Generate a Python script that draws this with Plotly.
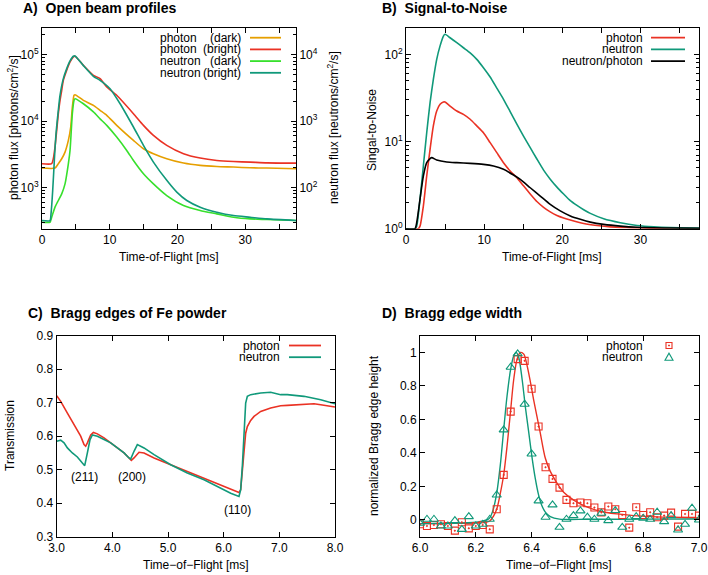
import plotly.graph_objects as go

W, H = 708, 575
FONT = "Liberation Sans, Arial, Helvetica, sans-serif"

def px(x):
    return x / W

def py(y):
    return 1 - y / H

ORANGE = "#e69f00"
RED = "#ea3224"
LGREEN = "#37e02c"
TEAL = "#10997a"
BLACK = "#000000"

# ---------------- Panel A: open beam profiles ----------------
a_photon_bright_t = [0, 1.43, 1.67, 1.92, 2.17, 2.41, 2.66, 2.91, 3.15, 3.65, 4.14, 4.63, 4.88, 6.11, 7.59,
                     8.57, 9.56, 11.03, 13.5, 14.98, 16.45, 18.42, 20.89, 23.35, 25.81, 28.28, 30.74, 33.2, 37.5]
a_photon_bright = [2280, 2280, 2710, 4060, 7230, 12900, 20500, 29000, 41000, 58100, 77400, 92300, 94400, 69000, 48800,
                   43500, 32600, 24400, 12900, 8610, 6080, 4300, 3220, 2770, 2550, 2460, 2410, 2350, 2330]

a_photon_dark_t = [0, 1.92, 2.41, 2.91, 3.40, 3.89, 4.24, 4.48, 4.73, 4.88, 6.11, 7.59, 8.57, 9.56, 11.03,
                   13.5, 14.98, 16.45, 18.42, 20.89, 23.35, 25.81, 28.28, 30.74, 33.2, 37.5]
a_photon_dark = [1960, 1960, 2280, 2710, 3410, 5110, 8130, 16200, 24400, 24900, 20500, 17200, 14500, 12200, 8610,
                 5110, 3830, 3220, 2710, 2330, 2150, 2070, 2030, 1980, 1960, 1910]

a_neutron_bright_t = [0, 1.18, 1.33, 1.58, 1.82, 2.07, 2.41, 2.66, 3.15, 3.65, 4.14, 4.63, 4.88, 6.11, 7.59,
                      8.57, 10.05, 11.53, 13.5, 14.98, 16.45, 18.42, 19.9, 21.38, 23.35, 25.81, 28.28, 30.74, 33.2, 37.5]
a_neutron_bright = [31.8, 31.8, 40.1, 90.1, 255, 644, 1450, 2440, 4350, 6150, 8030, 9440, 9550, 6820, 4710,
                    4100, 3070, 1820, 813, 430, 241, 128, 85.1, 63.7, 50.6, 42.5, 37.8, 35.7, 33.7, 31.8]

a_neutron_dark_t = [0, 1.18, 1.43, 1.92, 2.41, 2.91, 3.40, 3.89, 4.14, 4.48, 4.73, 4.88, 6.11, 7.59, 8.57,
                    9.56, 11.03, 12.51, 13.5, 14.98, 16.45, 18.42, 20.89, 23.35, 25.81, 28.28, 30.74, 33.2, 37.5]
a_neutron_dark = [30.0, 30.0, 35.7, 50.6, 63.7, 80.3, 113.5, 227.5, 361, 1290, 2050, 2170, 1820, 1370, 1080,
                  861, 574, 361, 255, 161, 113.5, 75.7, 53.6, 45.0, 40.1, 35.7, 33.7, 33.0, 31.8]

# ---------------- Panel B: signal-to-noise ----------------
b_neutron_t = [0, 1.15, 1.37, 1.79, 2.22, 2.65, 3.08, 3.50, 3.93, 4.36, 4.79, 5.0, 5.64, 6.50, 7.35, 8.21, 9.06,
               9.91, 10.77, 11.62, 12.48, 13.33, 14.19, 15.04, 15.90, 16.75, 17.61, 18.46, 19.32, 20.17, 21.03,
               21.88, 22.74, 23.59, 25.3, 27.44, 29.57, 31.71, 33.85, 37.5]
b_neutron = [1.0, 1.0, 1.07, 2.17, 5.24, 12.6, 27.9, 51.6, 87.6, 125, 162, 170, 155, 136, 119, 104, 87.6,
             70.3, 55.0, 41.0, 30.5, 22.0, 15.8, 11.5, 8.5, 6.3, 4.7, 3.7, 3.0, 2.5, 2.1,
             1.85, 1.65, 1.5, 1.3, 1.17, 1.09, 1.05, 1.03, 1.02]

b_photon_t = [0, 1.58, 1.79, 2.22, 2.65, 3.08, 3.50, 3.93, 4.36, 4.79, 5.0, 5.64, 6.50, 7.35, 8.21, 9.06, 9.91,
              10.77, 11.62, 12.48, 13.33, 14.19, 15.04, 15.90, 16.75, 17.61, 18.46, 19.32, 20.17, 21.03, 22.74,
              24.44, 26.15, 28.72, 31.71, 37.5]
b_photon = [1.0, 1.0, 1.07, 1.82, 4.02, 8.13, 15.1, 22.4, 26.7, 28.4, 28.4, 25.5, 22.4, 20.5, 18.0, 15.1, 12.6,
            9.70, 7.45, 5.72, 4.6, 3.85, 3.1, 2.5, 2.05, 1.76, 1.56, 1.42, 1.33, 1.26, 1.15,
            1.09, 1.05, 1.03, 1.01, 1.0]

b_ratio_t = [0, 1.15, 1.37, 1.79, 2.22, 2.65, 3.08, 3.29, 3.93, 5.21, 6.50, 8.21, 9.91, 11.2, 12.48, 13.76,
             14.62, 15.9, 17.18, 18.46, 19.74, 21.03, 22.31, 23.59, 25.3, 27.44, 29.57, 33.85, 37.5]
b_ratio = [1.0, 1.0, 1.17, 2.17, 4.02, 5.72, 6.36, 6.53, 6.14, 5.82, 5.72, 5.62, 5.47, 5.24, 4.80, 4.13,
           3.68, 2.95, 2.37, 1.90, 1.60, 1.40, 1.28, 1.19, 1.12, 1.07, 1.04, 1.02, 1.01]

# ---------------- Panel C: Bragg edges of Fe powder ----------------
c_photon_t = [3.0, 3.072, 3.192, 3.311, 3.431, 3.491, 3.521, 3.551, 3.611, 3.659, 3.731, 3.850, 3.970, 4.090,
              4.210, 4.299, 4.341, 4.389, 4.479, 4.569, 4.749, 5.048, 5.347, 5.647, 5.946, 6.126, 6.275, 6.305,
              6.335, 6.365, 6.395, 6.425, 6.485, 6.545, 6.665, 6.844, 7.024, 7.144, 7.443, 7.623, 7.743, 8.0]
c_photon = [0.721, 0.704, 0.669, 0.634, 0.600, 0.575, 0.570, 0.580, 0.604, 0.611, 0.607, 0.595, 0.580, 0.565,
            0.550, 0.535, 0.528, 0.535, 0.552, 0.550, 0.535, 0.515, 0.495, 0.475, 0.455, 0.443, 0.432, 0.440,
            0.490, 0.560, 0.609, 0.629, 0.647, 0.659, 0.674, 0.684, 0.691, 0.692, 0.696, 0.697, 0.694, 0.687]

c_neutron_t = [3.0, 3.072, 3.132, 3.192, 3.281, 3.371, 3.461, 3.503, 3.551, 3.599, 3.641, 3.731, 3.850, 3.970,
               4.090, 4.210, 4.299, 4.329, 4.389, 4.449, 4.569, 4.749, 5.048, 5.347, 5.647, 5.946, 6.126, 6.275,
               6.305, 6.335, 6.365, 6.395, 6.425, 6.485, 6.665, 6.844, 7.024, 7.144, 7.443, 7.623, 7.743, 8.0]
c_neutron = [0.585, 0.588, 0.580, 0.565, 0.550, 0.538, 0.520, 0.512, 0.550, 0.590, 0.604, 0.600, 0.590, 0.580,
             0.565, 0.550, 0.535, 0.532, 0.555, 0.575, 0.565, 0.545, 0.515, 0.490, 0.470, 0.445, 0.430, 0.420,
             0.440, 0.510, 0.609, 0.699, 0.719, 0.724, 0.729, 0.731, 0.724, 0.724, 0.719, 0.714, 0.709, 0.697]

c_labels = ["(211)", "(200)", "(110)"]
c_label_t = [3.50, 4.35, 6.24]
c_label_y = [0.477, 0.477, 0.380]

# ---------------- Panel D: Bragg edge width ----------------
d_t = [6.000, 6.025, 6.050, 6.075, 6.100, 6.125, 6.150, 6.175, 6.200, 6.225, 6.250, 6.275, 6.300, 6.325,
       6.350, 6.375, 6.400, 6.425, 6.450, 6.475, 6.500, 6.525, 6.550, 6.575, 6.600, 6.625, 6.650, 6.675,
       6.700, 6.725, 6.750, 6.775, 6.800, 6.825, 6.850, 6.875, 6.900, 6.925, 6.950, 6.975, 7.000]
d_photon = [-0.026, -0.036, -0.030, -0.026, -0.036, -0.064, -0.014, -0.050, -0.036, -0.030, -0.056, 0.064,
            0.269, 0.647, 0.960, 0.950, 0.783, 0.558, 0.315, 0.245, 0.193, 0.120, 0.100, 0.104, 0.100, 0.074,
            0.045, 0.080, 0.064, 0.030, -0.046, 0.076, 0.030, 0.046, 0.016, 0.026, 0.044, -0.040, 0.036,
            0.036, 0.026]
d_neutron = [-0.020, 0.004, 0.004, -0.036, -0.036, -0.004, -0.056, 0.020, -0.036, -0.026, 0.004, 0.149,
             0.538, 0.912, 0.992, 0.691, 0.394, 0.114, 0.016, 0.090, -0.044, 0.004, 0.026, 0.054, 0.016, 0.004,
             0.040, -0.004, 0.056, -0.044, 0.004, 0.020, 0.010, 0.004, 0.046, -0.010, 0.026, -0.060, -0.026,
             0.070, 0.000]

d_photon_fit_t = [6.0, 6.1, 6.2, 6.228, 6.25, 6.264, 6.276, 6.288, 6.3, 6.312, 6.324, 6.336, 6.348, 6.36, 6.372,
                  6.384, 6.395, 6.407, 6.419, 6.431, 6.449, 6.467, 6.491, 6.515, 6.551, 6.587, 6.646, 6.706,
                  6.766, 6.826, 6.909, 7.0]
d_photon_fit = [-0.022, -0.021, -0.019, -0.016, -0.006, 0.024, 0.07, 0.16, 0.27, 0.44, 0.64, 0.84, 0.96, 1.0,
                0.99, 0.92, 0.83, 0.72, 0.62, 0.52, 0.37, 0.29, 0.22, 0.165, 0.118, 0.086, 0.052, 0.036,
                0.026, 0.02, 0.016, 0.012]
d_neutron_fit_t = [6.0, 6.1, 6.2, 6.225, 6.24, 6.25, 6.262, 6.275, 6.288, 6.3, 6.312, 6.325, 6.336, 6.345,
                   6.354, 6.366, 6.378, 6.39, 6.401, 6.413, 6.425, 6.437, 6.45, 6.467, 6.5, 6.6, 6.8, 7.0]
d_neutron_fit = [-0.022, -0.02, -0.014, -0.006, 0.0, 0.012, 0.06, 0.16, 0.33, 0.54, 0.74, 0.9, 0.98, 1.0,
                 0.97, 0.84, 0.67, 0.52, 0.38, 0.25, 0.15, 0.085, 0.045, 0.02, 0.005, 0.004, 0.005, 0.006]

fig = go.Figure()

def line(x, y, color, xa, ya, shape="spline", width=1.6, smooth=0.6):
    kw = dict(color=color, width=width, shape=shape)
    if shape == "spline":
        kw["smoothing"] = smooth
    fig.add_trace(go.Scatter(x=x, y=y, mode="lines", line=kw, xaxis=xa, yaxis=ya,
                             hoverinfo="skip", showlegend=False))

# A
line(a_photon_dark_t, a_photon_dark, ORANGE, "x", "y")
line(a_photon_bright_t, a_photon_bright, RED, "x", "y")
line(a_neutron_dark_t, a_neutron_dark, LGREEN, "x", "y2")
line(a_neutron_bright_t, a_neutron_bright, TEAL, "x", "y2")
# B
line(b_photon_t, b_photon, RED, "x2", "y3")
line(b_neutron_t, b_neutron, TEAL, "x2", "y3")
line(b_ratio_t, b_ratio, BLACK, "x2", "y3")
# C
line(c_photon_t, c_photon, RED, "x3", "y4", shape="linear")
line(c_neutron_t, c_neutron, TEAL, "x3", "y4", shape="linear")
# D
line(d_photon_fit_t, d_photon_fit, RED, "x4", "y5", width=1.4, smooth=0.8)
line(d_neutron_fit_t, d_neutron_fit, TEAL, "x4", "y5", width=1.4, smooth=0.8)
fig.add_trace(go.Scatter(x=d_t, y=d_photon, mode="markers", xaxis="x4", yaxis="y5", hoverinfo="skip",
                         marker=dict(symbol="square-open-dot", size=7, color=RED, line=dict(width=1.1, color=RED))))
fig.add_trace(go.Scatter(x=d_t, y=d_neutron, mode="markers", xaxis="x4", yaxis="y5", hoverinfo="skip",
                         marker=dict(symbol="triangle-up-open", size=8, color=TEAL, line=dict(width=1.1, color=TEAL))))

TF = dict(family=FONT, size=12, color="black")

def axis(**kw):
    d = dict(showline=True, linecolor="black", linewidth=1, ticks="inside", ticklen=5, tickwidth=1,
             tickcolor="black", showgrid=False, zeroline=False, tickfont=TF, mirror="ticks",
             automargin=False)
    d.update(kw)
    return d

def minor_log(lo, hi):
    vals = []
    for e in range(lo, hi):
        for m in range(2, 10):
            vals.append(m * 10 ** e)
    return dict(tickvals=vals, ticks="inside", ticklen=3, tickcolor="black", tickwidth=1, showgrid=False)

def sup_ticks(lo, hi):
    vals = [10 ** e for e in range(lo, hi + 1)]
    txt = ["10<sup>%d</sup>" % e for e in range(lo, hi + 1)]
    return vals, txt

yA_v, yA_t = sup_ticks(3, 5)
y2A_v, y2A_t = sup_ticks(2, 4)
yB_v, yB_t = sup_ticks(0, 2)

dA_x = [px(42), px(296)]
dB_x = [px(406), px(699)]
dC_x = [px(56.7), px(335)]
dD_x = [px(420), px(699)]
d_top = [py(228.7), py(28)]
d_bot = [py(536.7), py(335.7)]

MINX = dict(dtick=5, ticks="inside", ticklen=5, tickcolor="black", showgrid=False)

fig.update_layout(
    template="none",
    width=W, height=H, margin=dict(l=0, r=0, t=0, b=0, autoexpand=False),
    paper_bgcolor="white", plot_bgcolor="white", showlegend=False,
    font=dict(family=FONT, size=12, color="black"),
    xaxis=axis(domain=dA_x, anchor="y", range=[0, 37.5], tick0=0, dtick=10, minor=MINX),
    yaxis=axis(domain=d_top, anchor="x", type="log", range=[2.38, 5.40], tickvals=yA_v, ticktext=yA_t,
               mirror=False, minor=minor_log(2, 6)),
    yaxis2=axis(domain=d_top, anchor="x", overlaying="y", side="right", type="log", range=[1.38, 4.40],
                tickvals=y2A_v, ticktext=y2A_t, mirror=False, minor=minor_log(1, 5)),
    xaxis2=axis(domain=dB_x, anchor="y3", range=[0, 37.5], tick0=0, dtick=10, minor=MINX),
    yaxis3=axis(domain=d_top, anchor="x2", type="log", range=[0, 2.302], tickvals=yB_v, ticktext=yB_t,
                minor=minor_log(0, 3)),
    xaxis3=axis(domain=dC_x, anchor="y4", range=[3, 8], tick0=3, dtick=1, tickformat=".1f"),
    yaxis4=axis(domain=d_bot, anchor="x3", range=[0.3, 0.9], tick0=0.3, dtick=0.1, tickformat=".1f"),
    xaxis4=axis(domain=dD_x, anchor="y5", range=[6, 7], tick0=6, dtick=0.2, tickformat=".1f"),
    yaxis5=axis(domain=d_bot, anchor="x4", range=[-0.1, 1.1], tick0=0, dtick=0.2),
)

ann = []
shapes = []

def text(t, x, y, size=12, bold=False, angle=0, xanchor="center", yanchor="middle"):
    if bold:
        t = "<b>" + t + "</b>"
    ann.append(dict(text=t, x=px(x), y=py(y), xref="paper", yref="paper", showarrow=False,
                    xanchor=xanchor, yanchor=yanchor, textangle=angle,
                    font=dict(family=FONT, size=size, color="black")))

# panel titles
NB = "\u00a0"
text("A)" + NB + NB + "Open beam profiles", 21, 8, size=14, bold=True, xanchor="left")
text("B)" + NB + NB + "Signal-to-Noise", 380, 8, size=14, bold=True, xanchor="left")
text("C)" + NB + NB + "Bragg edges of Fe powder", 26, 313, size=14, bold=True, xanchor="left")
text("D)" + NB + NB + "Bragg edge width", 380, 313, size=14, bold=True, xanchor="left")

# axis titles
text("Time-of-Flight [ms]", 169, 257)
text("Time-of-Flight [ms]", 552, 257)
text("Time\u2212of\u2212Flight [ms]", 196, 565)
text("Time\u2212of\u2212Flight [ms]", 559, 565)
text("photon flux [photons/cm<sup>2</sup>/s]", 13, 128, angle=-90)
text("neutron flux [neutrons/cm<sup>2</sup>/s]", 333, 128, angle=-90)
text("Singal-to-Noise", 372, 130, angle=-90)
text("Transmission", 10, 436, angle=-90)
text("normalized Bragg edge height", 374, 436, angle=-90)

# C peak labels (data coordinates)
for lab, t, v in zip(c_labels, c_label_t, c_label_y):
    ann.append(dict(text=lab, x=t, y=v, xref="x3", yref="y4", showarrow=False,
                    font=dict(family=FONT, size=12, color="black")))

def key_line(y, x0, x1, color):
    shapes.append(dict(type="line", xref="paper", yref="paper", x0=px(x0), x1=px(x1), y0=py(y), y1=py(y),
                       line=dict(color=color, width=1.8)))

# legend A
rowsA = [("photon", "(dark)", ORANGE), ("photon", "(bright)", RED),
         ("neutron", "(dark)", LGREEN), ("neutron", "(bright)", TEAL)]
for i, (w1, w2, c) in enumerate(rowsA):
    yy = 37.7 + i * 11.7
    text(w1, 158, yy, xanchor="left")
    text(w2, 243, yy, xanchor="right")
    key_line(yy, 250, 281, c)

# legend B
rowsB = [("photon", RED), ("neutron", TEAL), ("neutron/photon", BLACK)]
for i, (w, c) in enumerate(rowsB):
    yy = 37.7 + i * 11.7
    text(w, 645, yy, xanchor="right")
    key_line(yy, 651, 685, c)

# legend C
rowsC = [("photon", RED), ("neutron", TEAL)]
for i, (w, c) in enumerate(rowsC):
    yy = 345.5 + i * 11.7
    text(w, 282, yy, xanchor="right")
    key_line(yy, 289, 321, c)

# legend D
yy = 345.5
text("photon", 645, yy, xanchor="right")
shapes.append(dict(type="rect", xref="paper", yref="paper", x0=px(666), x1=px(672), y0=py(yy + 3), y1=py(yy - 3),
                   line=dict(color=RED, width=1.1)))
shapes.append(dict(type="rect", xref="paper", yref="paper", x0=px(668.5), x1=px(669.5), y0=py(yy + 0.5),
                   y1=py(yy - 0.5), line=dict(color=RED, width=0.8), fillcolor=RED))
yy = 357.2
text("neutron", 645, yy, xanchor="right")
shapes.append(dict(type="path", xref="paper", yref="paper",
                   path="M %f %f L %f %f L %f %f Z" % (px(665), py(yy + 3), px(673), py(yy + 3), px(669), py(yy - 4)),
                   line=dict(color=TEAL, width=1.1)))

fig.update_layout(annotations=ann, shapes=shapes)
fig.write_html("out.html",
               config={"displayModeBar": False, "staticPlot": True},
               post_script="document.body.style.margin='0';document.body.style.padding='0';"
                           "document.documentElement.style.overflow='hidden';")
